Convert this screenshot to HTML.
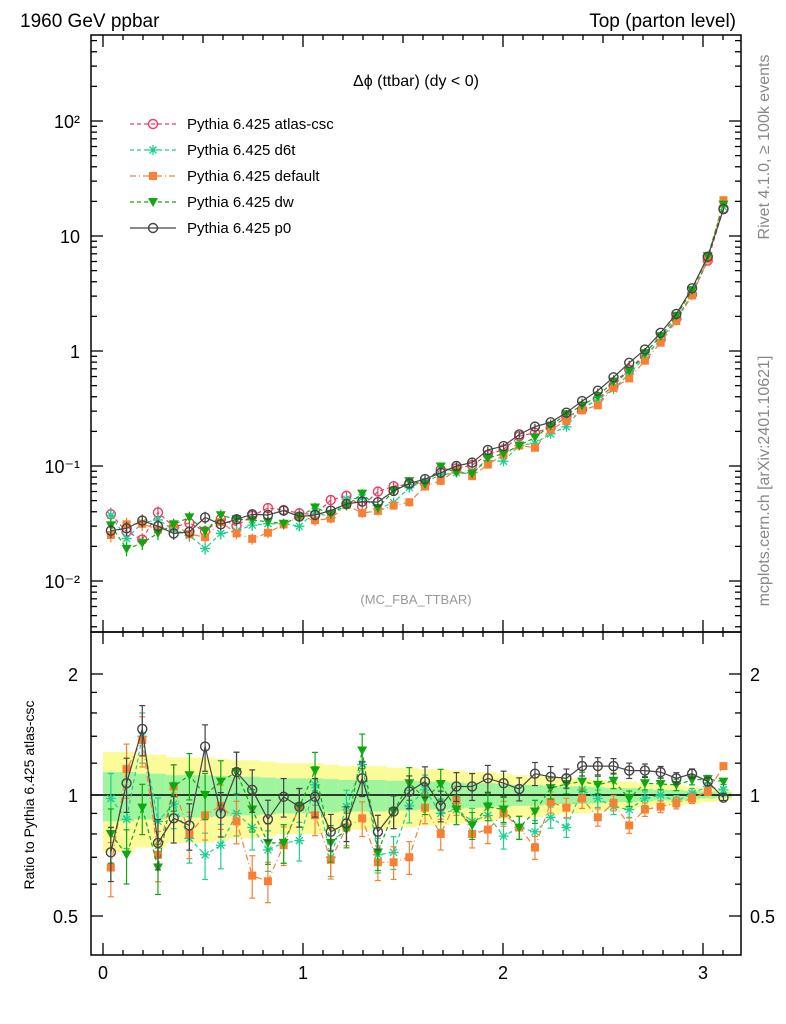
<!DOCTYPE html>
<html><head><meta charset="utf-8"><style>
html,body{margin:0;padding:0;background:#fff;}
svg{display:block;font-family:"Liberation Sans",sans-serif;}
</style></head><body>
<svg id="chart" width="786" height="1024" viewBox="0 0 786 1024" xmlns="http://www.w3.org/2000/svg">
<text x="20" y="27" font-size="19">1960 GeV ppbar</text>
<text x="736" y="27" font-size="19" text-anchor="end">Top (parton level)</text>
<text transform="translate(769,147) rotate(-90)" font-size="16" fill="#888" text-anchor="middle">Rivet 4.1.0, ≥ 100k events</text>
<text transform="translate(769,481) rotate(-90)" font-size="16" fill="#888" text-anchor="middle">mcplots.cern.ch [arXiv:2401.10621]</text>
<text x="416" y="86" font-size="16" text-anchor="middle">Δϕ (ttbar) (dy &lt; 0)</text>
<text x="416" y="604" font-size="13" fill="#999" text-anchor="middle">(MC_FBA_TTBAR)</text>
<text transform="translate(34,795) rotate(-90)" font-size="14" text-anchor="middle">Ratio to Pythia 6.425 atlas-csc</text>
<g id="bands"></g><g id="marks"></g><g id="axes"></g><g id="legend"></g>
</svg>
<script>
const NS="http://www.w3.org/2000/svg";
const nBins=40;
const p0Main=[0.0274,0.0287,0.0335,0.030,0.0259,0.0268,0.0357,0.0311,0.0344,0.038,0.0375,0.041,0.0363,0.0375,0.041,0.0468,0.049,0.0485,0.0607,0.0705,0.077,0.0873,0.100,0.107,0.138,0.149,0.188,0.220,0.240,0.291,0.367,0.452,0.59,0.79,1.03,1.44,2.1,3.51,6.6,17.1];
const ratioP0=[0.72,1.07,1.46,0.76,0.875,0.84,1.32,0.9,1.14,1.03,0.87,0.99,0.935,0.99,0.81,0.85,1.1,0.81,0.91,1.02,1.08,0.94,1.05,1.05,1.10,1.07,1.035,1.13,1.11,1.10,1.18,1.18,1.18,1.15,1.15,1.14,1.10,1.13,1.08,0.985];
const ratioDefault=[0.66,1.16,1.37,0.71,1.05,0.80,0.89,0.94,0.86,0.63,0.61,0.75,0.935,0.89,0.69,0.83,0.875,0.68,0.68,0.70,0.93,0.80,0.97,0.80,0.82,0.90,0.83,0.74,0.96,0.93,0.98,0.88,0.955,0.84,0.92,0.935,0.955,0.98,1.02,1.18];
const ratioDw=[0.80,0.71,0.93,0.66,1.05,1.12,1.0,1.08,1.14,0.92,0.76,0.76,0.935,1.15,0.76,0.82,1.29,0.72,0.91,1.07,0.98,1.065,0.92,0.84,0.935,0.92,0.83,0.91,1.04,1.065,1.08,1.06,1.085,0.98,1.07,1.065,1.06,1.09,1.095,1.08];
const ratioD6t=[0.98,0.87,1.4,0.86,0.95,0.78,0.71,0.75,0.90,0.83,0.73,0.76,0.77,1.06,0.70,0.935,1.19,0.71,0.72,0.94,1.03,0.90,0.92,0.86,0.89,0.79,0.83,0.81,0.88,0.83,1.03,0.98,0.935,0.92,0.98,1.0,0.965,1.01,1.05,1.03];
const relErr=[0.14,0.14,0.13,0.13,0.12,0.12,0.12,0.115,0.11,0.11,0.105,0.1,0.1,0.1,0.095,0.09,0.09,0.09,0.085,0.085,0.08,0.08,0.075,0.07,0.07,0.065,0.06,0.06,0.055,0.05,0.05,0.045,0.04,0.04,0.035,0.03,0.03,0.025,0.02,0.015];
const xTicks=[0,1,2,3];
const mainYTicks=[0.01,0.1,1,10,100];
const mainYLabels=["10⁻²","10⁻¹","1","10","10²"];
const ratioTicks=[0.5,1,2];
const ratioLabels=["0.5","1","2"];

const X0=91,X1=741,MT=35,MB=632,RB=955;
const xs=v=>103+200*v;
const ym=v=>351-115*Math.log10(v);
const yr=v=>795-121*Math.log2(v);
const binW=Math.PI/nBins;
const cx=i=>xs(binW*(i+0.5));

function mk(tag,attrs,parent){const e=document.createElementNS(NS,tag);for(const k in attrs)e.setAttribute(k,attrs[k]);parent.appendChild(e);return e;}
const bands=document.getElementById('bands'),marks=document.getElementById('marks'),axes=document.getElementById('axes'),legend=document.getElementById('legend');

const atlasMain=p0Main.map((v,i)=>v/ratioP0[i]);
const ratioAtlas=atlasMain.map(()=>1);
const series=[
 {name:'atlas-csc',ratio:ratioAtlas,color:'#f03a60',dash:'4,3',marker:'ocircle'},
 {name:'d6t',ratio:ratioD6t,color:'#1fcf92',dash:'4,3',marker:'star'},
 {name:'default',ratio:ratioDefault,color:'#f88035',dash:'6,3,1,3',marker:'square'},
 {name:'dw',ratio:ratioDw,color:'#10a810',dash:'4,3',marker:'tri'},
 {name:'p0',ratio:ratioP0,color:'#444',dash:'',marker:'ocircle'}
];

for(let i=0;i<nBins;i++){
  const x1=xs(binW*i),x2=xs(binW*(i+1));
  const e=relErr[i];
  let r=mk('rect',{x:x1,y:yr(1+2*e),width:x2-x1+0.5,height:yr(1-2*e)-yr(1+2*e),fill:'#fbfb9a'},bands);
  
  
  r=mk('rect',{x:x1,y:yr(1+e),width:x2-x1+0.5,height:yr(1-e)-yr(1+e),fill:'#9ef59e'},bands);
  
  
}
let one=mk('line',{x1:X0,x2:X1,y1:yr(1),y2:yr(1),stroke:'#000','stroke-width':1.5},bands);



function marker(g,type,x,y,c){
  if(type==='ocircle')mk('circle',{cx:x,cy:y,r:4.5,fill:'none',stroke:c,'stroke-width':1.4},g);
  else if(type==='square')mk('rect',{x:x-4,y:y-4,width:8,height:8,fill:c},g);
  else if(type==='tri')mk('path',{d:`M${x-5},${y-4}L${x+5},${y-4}L${x},${y+5}Z`,fill:c},g);
  else if(type==='star'){mk('path',{d:`M${x-5},${y}H${x+5}M${x},${y-5}V${y+5}M${x-3.5},${y-3.5}L${x+3.5},${y+3.5}M${x-3.5},${y+3.5}L${x+3.5},${y-3.5}`,stroke:c,'stroke-width':1.3},g);}
}

series.forEach((s,si)=>{
  const g=mk('g',{},marks);
  
  
  const mainVals=atlasMain.map((v,i)=>v*s.ratio[i]);
  let pts=mainVals.map((v,i)=>cx(i)+','+ym(v)).join(' ');
  const pl=mk('polyline',{points:pts,fill:'none',stroke:s.color,'stroke-width':1.2,'stroke-dasharray':s.dash},g);
  
  
  mainVals.forEach((v,i)=>{
    const e=relErr[i]*v;
    mk('line',{x1:cx(i),x2:cx(i),y1:ym(v+e),y2:ym(Math.max(v-e,v*0.3)),stroke:s.color,'stroke-width':1.2},g);
    marker(g,s.marker,cx(i),ym(v),s.color);
  });
  if(s.name==='atlas-csc')return;
  const rg=mk('g',{},marks);
  
  
  pts=s.ratio.map((v,i)=>cx(i)+','+yr(v)).join(' ');
  const rl=mk('polyline',{points:pts,fill:'none',stroke:s.color,'stroke-width':1.2,'stroke-dasharray':s.dash},rg);
  
  
  s.ratio.forEach((v,i)=>{
    const e=relErr[i]*v*1.1;
    mk('line',{x1:cx(i),x2:cx(i),y1:yr(v+e),y2:yr(v-e),stroke:s.color,'stroke-width':1.2},rg);
    mk('line',{x1:cx(i)-3,x2:cx(i)+3,y1:yr(v+e),y2:yr(v+e),stroke:s.color,'stroke-width':1.2},rg);
    mk('line',{x1:cx(i)-3,x2:cx(i)+3,y1:yr(v-e),y2:yr(v-e),stroke:s.color,'stroke-width':1.2},rg);
    marker(rg,s.marker,cx(i),yr(v),s.color);
  });
});

let f=mk('rect',{x:X0,y:MT,width:X1-X0,height:MB-MT,fill:'none',stroke:'#000','stroke-width':1.5},axes);


f=mk('rect',{x:X0,y:MB,width:X1-X0,height:RB-MB,fill:'none',stroke:'#000','stroke-width':1.5},axes);


function tick(x1,y1,x2,y2){mk('line',{x1,y1,x2,y2,stroke:'#000','stroke-width':1.3},axes);}
for(let k=0;k<=31;k++){
  const v=k/10,x=xs(v);const L=(k%10===0)?12:(k%5===0?8:5);
  [[MT,1],[MB,-1],[MB,1],[RB,-1]].forEach(([y,d])=>tick(x,y,x,y+d*L));
}
xTicks.forEach(v=>{const t=mk('text',{x:xs(v),y:979,'font-size':18,'text-anchor':'middle'},axes);t.textContent=v;
 
 });
for(let d=-3;d<=2;d++){for(let m=1;m<=9;m++){const v=m*Math.pow(10,d);const y=ym(v);if(y<MT||y>MB)continue;const L=m===1?12:6;tick(X0,y,X0+L,y);tick(X1,y,X1-L,y);}}
mainYTicks.forEach((v,i)=>{const t=mk('text',{x:80,y:ym(v)+7,'font-size':18,'text-anchor':'end'},axes);t.textContent=mainYLabels[i];
 
 });
[0.5,0.6,0.7,0.8,0.9,1,1.2,1.4,1.6,1.8,2].forEach(v=>{const y=yr(v);const L=(v===0.5||v===1||v===2)?12:6;tick(X0,y,X0+L,y);tick(X1,y,X1-L,y);});
ratioTicks.forEach((v,i)=>{
 let t=mk('text',{x:78,y:yr(v)+7,'font-size':18,'text-anchor':'end'},axes);t.textContent=ratioLabels[i];
 
 
 t=mk('text',{x:750,y:yr(v)+7,'font-size':18},axes);t.textContent=ratioLabels[i];
 
 });
series.forEach((s,i)=>{
  const y=124+26*i;
  const g=mk('g',{},legend);
  
  
  mk('line',{x1:130,x2:176,y1:y,y2:y,stroke:s.color,'stroke-width':1.3,'stroke-dasharray':s.dash},g);
  marker(g,s.marker,153,y,s.color);
  const t=mk('text',{x:187,y:y+5,'font-size':15},g);t.textContent='Pythia 6.425 '+s.name;
});
</script>
</body></html>
